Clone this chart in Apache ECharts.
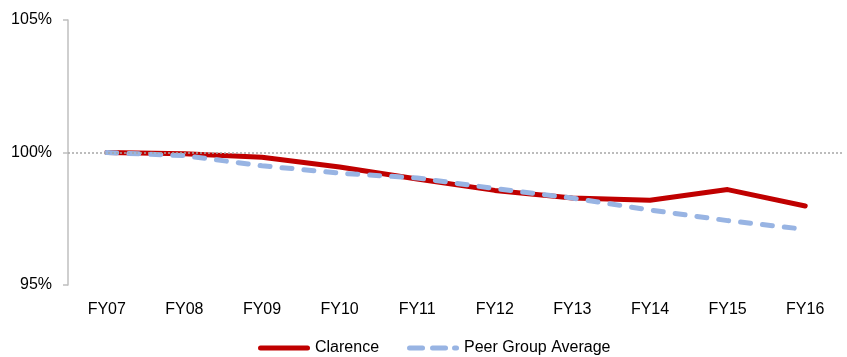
<!DOCTYPE html>
<html>
<head>
<meta charset="utf-8">
<script src="https://cdn.jsdelivr.net/npm/echarts@6/dist/echarts.min.js"></script>
<style>html,body{margin:0;padding:0;background:#fff}#c{width:847px;height:357px}</style>
</head>
<body>
<div id="c"></div>
<script>
const categories = ['FY07','FY08','FY09','FY10','FY11','FY12','FY13','FY14','FY15','FY16'];
const clarence = [100, 99.95, 99.82, 99.45, 99.0, 98.57, 98.28, 98.2, 98.6, 97.98];
const peerAvg = [100, 99.88, 99.5, 99.22, 99.04, 98.64, 98.28, 97.83, 97.43, 97.1];
const yTicks = [95, 100, 105];

const font = 'Liberation Sans';
const solidIcon = 'path://M2.5,0 H49.5 A2.5,2.5 0 0 1 49.5,5 H2.5 A2.5,2.5 0 0 1 2.5,0 Z';
const dashIcon = 'path://M2.5,0 H15.5 A2.5,2.5 0 0 1 15.5,5 H2.5 A2.5,2.5 0 0 1 2.5,0 Z ' +
  'M25.5,0 H38.5 A2.5,2.5 0 0 1 38.5,5 H25.5 A2.5,2.5 0 0 1 25.5,0 Z ' +
  'M47.5,0 H49.5 A2.5,2.5 0 0 1 49.5,5 H47.5 A2.5,2.5 0 0 1 47.5,0 Z';

const chart = echarts.init(document.getElementById('c'));
chart.setOption({
  animation: false,
  textStyle: {fontFamily: font},
  grid: {left: 68, right: 3, top: 20, bottom: 72},
  legend: {
    top: 335,
    left: 253,
    itemWidth: 52,
    itemHeight: 5,
    itemGap: 28,
    itemTextGap: 4,
    symbolKeepAspect: false,
    textStyle: {fontFamily: font, fontSize: 16, color: '#000'},
    data: [
      {name: 'Clarence', icon: solidIcon, itemStyle: {color: '#C00000', borderWidth: 0}},
      {name: 'Peer Group Average', icon: dashIcon, itemStyle: {color: '#98B4E3', borderWidth: 0}}
    ]
  },
  xAxis: {
    type: 'category',
    data: categories,
    boundaryGap: true,
    axisLine: {show: false},
    axisTick: {show: false},
    axisLabel: {color: '#000', fontSize: 16, margin: 17, fontFamily: font}
  },
  yAxis: {
    type: 'value',
    min: yTicks[0],
    max: yTicks[yTicks.length - 1],
    interval: 5,
    axisLine: {show: true, lineStyle: {color: '#bfbfbf', width: 1.5}},
    axisTick: {show: true, length: 5, lineStyle: {color: '#bfbfbf', width: 1.5}},
    splitLine: {show: false},
    axisLabel: {formatter: '{value}%', color: '#000', fontSize: 16, margin: 16, fontFamily: font}
  },
  series: [
    {
      name: 'Clarence',
      type: 'line',
      data: clarence,
      symbol: 'none',
      z: 2,
      lineStyle: {color: '#C00000', width: 5, cap: 'round', join: 'round'},
      itemStyle: {color: '#C00000'},
      markLine: {
        silent: true,
        symbol: 'none',
        label: {show: false},
        lineStyle: {color: '#a6a6a6', type: [2, 2], width: 1.5},
        data: [{yAxis: 100}]
      }
    },
    {
      name: 'Peer Group Average',
      type: 'line',
      data: peerAvg,
      symbol: 'none',
      z: 3,
      lineStyle: {color: '#98B4E3', width: 5, type: [10, 12], cap: 'round', join: 'round'},
      itemStyle: {color: '#98B4E3'}
    }
  ]
});
</script>
</body>
</html>
